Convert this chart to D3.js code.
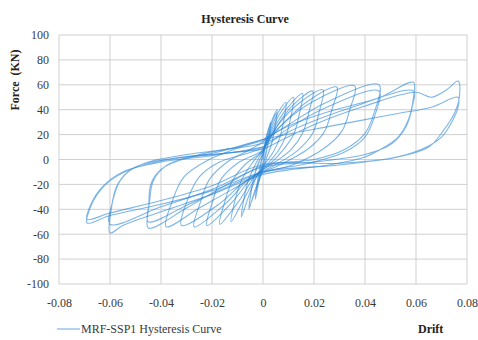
<!DOCTYPE html>
<html>
<head>
<meta charset="utf-8">
<script src="https://cdn.jsdelivr.net/npm/d3@7"></script>
<style>
  body { margin: 0; background: #fff; }
  svg text { font-family: 'Liberation Serif', 'Times New Roman', serif; }
</style>
</head>
<body>
<svg id="chart" width="478" height="340"></svg>
<script>
// tick values
const xTicks = [-0.08, -0.06, -0.04, -0.02, 0, 0.02, 0.04, 0.06, 0.08];
const yTicks = [-100, -80, -60, -40, -20, 0, 20, 40, 60, 80, 100];

// hysteresis loops, [drift, force kN], in loading order
const loopSmall = [
  [0, 0], [0.0015, 18], [0.003, 30], [0.0025, 20], [0.001, 5], [-0.001, -10], [-0.002, -22], [-0.003, -32],
  [-0.0025, -22], [-0.001, -6], [0, 4], [0.0015, 20], [0.003, 29], [0.0025, 18], [0.001, 3], [-0.001, -12],
  [-0.003, -31], [-0.0022, -18], [-0.001, -4], [0, 5]
];
const loop2 = [
  [0.002, 22], [0.004, 34], [0.0055, 40], [0.0048, 28], [0.0035, 14], [0.0015, 2], [0, -6], [-0.002, -18],
  [-0.004, -30], [-0.0055, -40], [-0.0048, -28], [-0.0035, -14], [-0.0015, -2], [0, 6],
  [0.002, 20], [0.004, 32], [0.0055, 38], [0.0047, 26], [0.0033, 12], [0.0012, 0], [0, -8], [-0.002, -20],
  [-0.004, -31], [-0.0055, -39], [-0.0047, -26], [-0.0033, -12], [-0.0012, 0], [0, 3]
];
const loop3 = [
  [0.003, 24], [0.006, 38], [0.009, 46], [0.0082, 32], [0.0065, 17], [0.004, 6], [0.001, -3], [-0.002, -12],
  [-0.005, -26], [-0.0085, -46], [-0.0075, -32], [-0.0058, -17], [-0.003, -4], [0, 7]
];
const loop4 = [
  [0.003, 22], [0.007, 38], [0.012, 50], [0.011, 35], [0.009, 19], [0.006, 7], [0.002, -3], [-0.002, -12],
  [-0.007, -30], [-0.0125, -50], [-0.011, -33], [-0.0085, -17], [-0.005, -5], [0, 8]
];
const loop5 = [
  [0.004, 24], [0.009, 40], [0.0155, 53], [0.0143, 37], [0.012, 20], [0.008, 8], [0.003, -3], [-0.003, -13],
  [-0.009, -32], [-0.017, -52], [-0.015, -34], [-0.012, -17], [-0.007, -4], [0, 6]
];
const loop6 = [
  [0.005, 25], [0.011, 42], [0.0195, 55], [0.018, 38], [0.0155, 21], [0.011, 8], [0.004, -3], [-0.004, -14],
  [-0.012, -34], [-0.022, -53], [-0.0198, -34], [-0.0165, -16], [-0.01, -3], [-0.003, 4], [0, 7]
];
const loop7 = [
  [0.006, 28], [0.014, 45], [0.0235, 56], [0.022, 38], [0.0195, 21], [0.014, 8], [0.006, -3], [-0.005, -15],
  [-0.015, -36], [-0.027, -54], [-0.0245, -34], [-0.021, -16], [-0.014, -2], [-0.005, 8], [0, 14]
];
const loop8 = [
  [0.007, 27], [0.017, 46], [0.029, 58], [0.027, 40], [0.024, 22], [0.018, 9], [0.008, -3], [-0.006, -16],
  [-0.018, -37], [-0.032, -53], [-0.0295, -32], [-0.025, -14], [-0.017, -2], [-0.006, 5], [0, 9]
];
const loop9 = [
  [0.008, 29], [0.02, 47], [0.036, 59], [0.034, 40], [0.031, 23], [0.024, 9], [0.012, -4], [0, -11],
  [-0.012, -24], [-0.025, -39], [-0.038, -54], [-0.0355, -33], [-0.031, -14], [-0.022, -1], [-0.01, 9], [0, 15]
];
const loop10 = [
  [0.01, 28], [0.025, 46], [0.0455, 60], [0.0435, 37], [0.04, 21], [0.032, 8], [0.02, 0], [0, -5],
  [-0.015, -21], [-0.03, -39], [-0.045, -55], [-0.0448, -38], [-0.044, -20], [-0.04, -8], [-0.03, 1],
  [-0.015, 5], [0, 10],
  [0.01, 25], [0.025, 42], [0.0455, 55], [0.0438, 35], [0.04, 18], [0.032, 6], [0.018, -3], [0, -10],
  [-0.015, -23], [-0.03, -37], [-0.045, -50], [-0.0445, -34], [-0.043, -17], [-0.038, -5], [-0.025, 4],
  [-0.01, 10], [0, 16]
];
const loop11 = [
  [0.01, 27], [0.025, 38], [0.046, 50], [0.059, 62], [0.059, 50], [0.057, 32], [0.053, 18], [0.046, 8],
  [0.04, 2], [0.027, -4], [0, -12], [-0.02, -28], [-0.04, -42], [-0.055, -53], [-0.06, -59], [-0.0595, -40],
  [-0.0575, -22], [-0.053, -10], [-0.045, -2], [-0.03, 4], [-0.015, 8], [0, 13],
  [0.015, 27], [0.035, 42], [0.059, 55], [0.0585, 42], [0.056, 26], [0.05, 12], [0.04, 4], [0.02, -2],
  [0, -6], [-0.02, -24], [-0.04, -38], [-0.06, -52], [-0.059, -34], [-0.056, -17], [-0.05, -6],
  [-0.035, 1], [-0.015, 5], [0, 8]
];
const loop12 = [
  [0.02, 28], [0.04, 43], [0.06, 54], [0.066, 50], [0.072, 56], [0.0765, 63], [0.077, 50], [0.075, 37],
  [0.071, 24], [0.065, 10], [0.053, 2], [0.04, -2], [0.027, -5], [0, -10], [-0.02, -25], [-0.04, -36],
  [-0.06, -45], [-0.069, -51], [-0.068, -40], [-0.065, -28], [-0.06, -17], [-0.052, -8], [-0.04, -1],
  [-0.02, 5], [0, 16],
  [0.027, 27], [0.04, 32], [0.053, 37], [0.066, 42], [0.0765, 50], [0.0765, 42], [0.074, 30], [0.07, 18],
  [0.062, 8], [0.05, 1], [0.03, -3], [0, -4], [-0.02, -21], [-0.04, -33], [-0.06, -43], [-0.069, -48],
  [-0.0675, -36], [-0.063, -22], [-0.055, -10], [-0.04, -2], [-0.02, 3], [0, 10]
];
const loops = [loopSmall, loop2, loop3, loop4, loop5, loop6, loop7, loop8, loop9, loop10, loop11, loop12];

const seriesName = 'MRF-SSP1 Hysteresis Curve';

const margin = { top: 35, right: 11, bottom: 56, left: 59 };
const width = 478 - margin.left - margin.right;
const height = 340 - margin.top - margin.bottom;

const svg = d3.select('#chart');
const g = svg.append('g').attr('transform', `translate(${margin.left},${margin.top})`);

const x = d3.scaleLinear().domain([-0.08, 0.08]).range([0, width]);
const y = d3.scaleLinear().domain([-100, 100]).range([height, 0]);

// grid
g.append('g')
  .selectAll('line')
  .data(yTicks)
  .enter()
  .append('line')
    .attr('x1', 0).attr('x2', width)
    .attr('y1', d => y(d)).attr('y2', d => y(d))
    .attr('stroke', '#cfcfcf').attr('stroke-width', 1);

g.append('g')
  .selectAll('line')
  .data(xTicks)
  .enter()
  .append('line')
    .attr('y1', 0).attr('y2', height)
    .attr('x1', d => x(d)).attr('x2', d => x(d))
    .attr('stroke', '#cfcfcf').attr('stroke-width', 1);

// axes (plain hyphen minus, serif labels)
const plain = d => String(+(+d).toFixed(2));
const xAxis = g.append('g')
  .attr('transform', `translate(0,${height})`)
  .call(d3.axisBottom(x).tickValues(xTicks).tickSize(0).tickPadding(14).tickFormat(plain));
const yAxis = g.append('g')
  .call(d3.axisLeft(y).tickValues(yTicks).tickSize(0).tickPadding(10).tickFormat(plain));
[xAxis, yAxis].forEach(a => {
  a.attr('font-family', "'Liberation Serif', serif").attr('font-size', 12);
  a.select('.domain').remove();
  a.selectAll('text').attr('fill', '#3a3a3a');
});

// curve
const line = d3.line()
  .x(d => x(d[0]))
  .y(d => y(d[1]))
  .curve(d3.curveCatmullRom.alpha(0.5));

g.append('g')
  .selectAll('path')
  .data(loops)
  .enter()
  .append('path')
    .attr('d', (d, i) => line(i === 0 ? d : [loops[i - 1][loops[i - 1].length - 1]].concat(d)))
    .attr('fill', 'none')
    .attr('stroke', '#2a86d6')
    .attr('stroke-opacity', 0.6)
    .attr('stroke-width', 1.1);

// titles
svg.append('text')
  .attr('x', 245).attr('y', 23)
  .attr('text-anchor', 'middle')
  .style('font-size', '12px').style('font-weight', 'bold')
  .attr('fill', '#222')
  .text('Hysteresis Curve');

svg.append('text')
  .attr('transform', 'translate(19,80) rotate(-90)')
  .attr('text-anchor', 'middle')
  .style('font-size', '12px').style('font-weight', 'bold')
  .attr('fill', '#222')
  .text('Force\u00a0\u00a0(KN)');

// legend
svg.append('line')
  .attr('x1', 57).attr('x2', 80)
  .attr('y1', 329).attr('y2', 329)
  .attr('stroke', '#7fb6e6').attr('stroke-width', 1.2);
svg.append('text')
  .attr('x', 81).attr('y', 333)
  .style('font-size', '12px')
  .attr('fill', '#3a3a3a')
  .text(seriesName);
svg.append('text')
  .attr('x', 418).attr('y', 333)
  .style('font-size', '12px').style('font-weight', 'bold')
  .attr('fill', '#222')
  .text('Drift');
</script>
</body>
</html>
